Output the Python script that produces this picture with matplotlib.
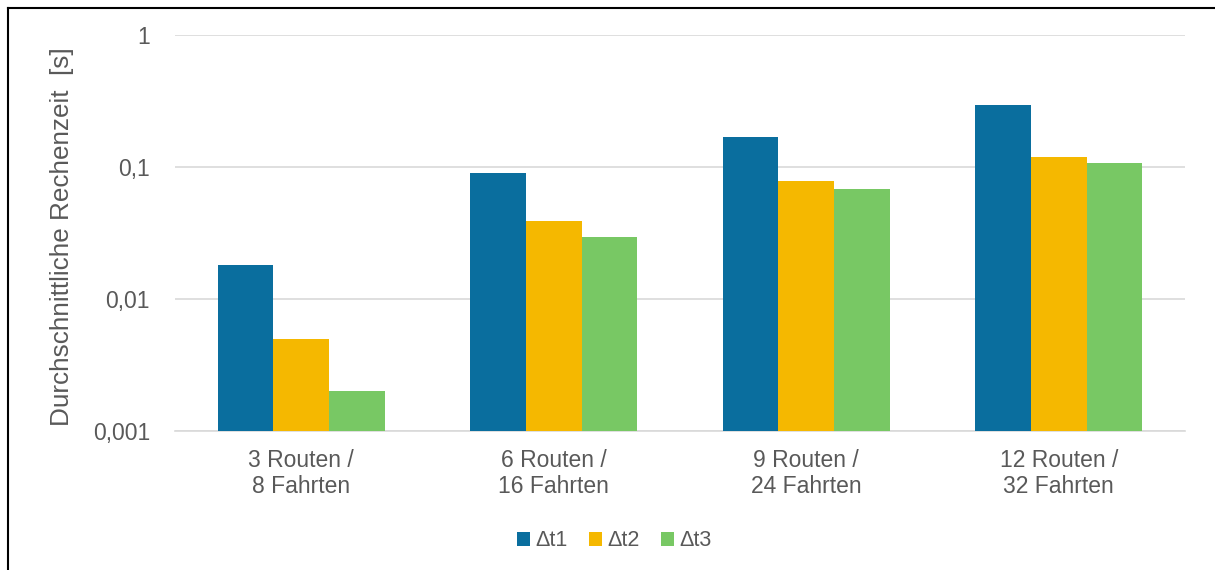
import matplotlib
matplotlib.use("Agg")
import matplotlib.pyplot as plt
import numpy as np
from matplotlib.lines import Line2D

categories = ["3 Routen /\n8 Fahrten", "6 Routen /\n16 Fahrten", "9 Routen /\n24 Fahrten", "12 Routen /\n32 Fahrten"]
series_names = ["Δt1", "Δt2", "Δt3"]
dt1 = [0.0181, 0.090, 0.169, 0.295]
dt2 = [0.0050, 0.039, 0.078, 0.119]
dt3 = [0.0020, 0.0295, 0.068, 0.107]
yticks = [0.001, 0.01, 0.1, 1]
ytick_labels = ["0,001", "0,01", "0,1", "1"]

colors = ["#0a6e9e", "#f5b800", "#78c864"]
text_color = "#595959"

plt.rcParams['font.family'] = ['Liberation Sans', 'DejaVu Sans']

fig = plt.figure(figsize=(12.15, 5.7), dpi=100)
W, H = 1215, 570
ax = fig.add_axes([175 / W, 1 - 431 / H, (1185 - 175) / W, (431 - 35) / H])

x = np.arange(len(categories))
bw = 0.22
for i, (vals, name) in enumerate(zip([dt1, dt2, dt3], series_names)):
    ax.bar(x + (i - 1) * bw, vals, width=bw, color=colors[i], label=name, zorder=3)

ax.set_yscale('log')
ax.set_ylim(0.001, 1)
ax.set_xlim(-0.5, 3.5)
ax.set_yticks(yticks)
ax.set_yticklabels(ytick_labels)
ax.yaxis.set_minor_locator(matplotlib.ticker.NullLocator())
ax.set_xticks(x)
ax.set_xticklabels(categories, linespacing=1.15)
ax.tick_params(axis='both', length=0, colors=text_color, labelsize=16.5)
ax.tick_params(axis='y', pad=18)
ax.tick_params(axis='x', pad=13)
ax.grid(axis='y', color='#d9d9d9', linewidth=1.2, zorder=0)
for s in ['top', 'right', 'left']:
    ax.spines[s].set_visible(False)
ax.spines['bottom'].set_color('#d9d9d9')
ax.spines['bottom'].set_linewidth(1.2)

ax.set_ylabel("Durchschnittliche Rechenzeit  [s]", color=text_color, fontsize=18.8)
ax.yaxis.set_label_coords(-0.1, 0.49)

leg = fig.legend(loc='center', bbox_to_anchor=(614 / W, 1 - 541 / H), ncol=3, frameon=False,
                 fontsize=15.5, handlelength=0.6, handleheight=0.6, handletextpad=0.25,
                 columnspacing=1.0, labelcolor=text_color)

# figure frame (left and top edges)
fig.add_artist(Line2D([7.5 / W, 7.5 / W], [0, 1 - 8 / H], color='black', linewidth=1.5, transform=fig.transFigure))
fig.add_artist(Line2D([7.5 / W, 1], [1 - 8 / H, 1 - 8 / H], color='black', linewidth=1.5, transform=fig.transFigure))

fig.savefig("out.png", dpi=100)
